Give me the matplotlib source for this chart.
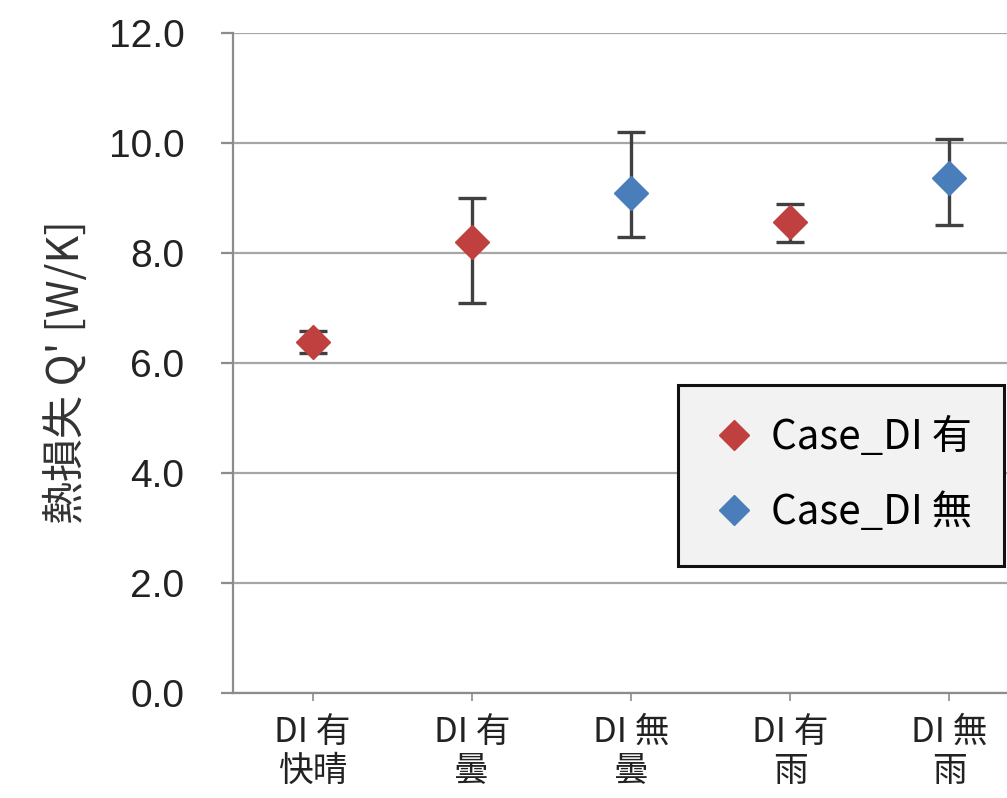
import matplotlib
matplotlib.use("Agg")
import matplotlib.pyplot as plt
import numpy as np

categories = ["DI 有\n快晴", "DI 有\n曇", "DI 無\n曇", "DI 有\n雨", "DI 無\n雨"]

# Case_DI 有 (categories 1, 2, 4)
ari_idx = [0, 1, 3]
ari_val = [6.38, 8.20, 8.56]
ari_low = [6.18, 7.09, 8.20]
ari_high = [6.58, 9.00, 8.90]

# Case_DI 無 (categories 3, 5)
nashi_idx = [2, 4]
nashi_val = [9.09, 9.36]
nashi_low = [8.29, 8.51]
nashi_high = [10.20, 10.07]

yticks = [0, 2, 4, 6, 8, 10, 12]
ylabel = "熱損失 Q' [W/K]"
legend_labels = ["Case_DI 有", "Case_DI 無"]

RED = "#C0403F"
BLUE = "#4A7EBB"
ERR = "#404040"
GRID = "#A6A6A6"

W, H = 1007, 798
fig = plt.figure(figsize=(W / 100, H / 100), dpi=100)
ax = fig.add_axes([233 / W, (H - 693) / H, 796 / W, 660 / H])

x = np.arange(1, len(categories) + 1)

def plot_series(idx, val, low, high, color, label):
    xs = x[idx]
    v = np.array(val)
    yerr = np.vstack([v - np.array(low), np.array(high) - v])
    ax.errorbar(xs, v, yerr=yerr, fmt="none", ecolor=ERR, elinewidth=2.4,
                capsize=10, capthick=2.4, zorder=3)
    ax.plot(xs, v, linestyle="none", marker="D", markersize=17,
            color=color, markeredgecolor=color, label=label, zorder=4)

plot_series(ari_idx, ari_val, ari_low, ari_high, RED, legend_labels[0])
plot_series(nashi_idx, nashi_val, nashi_low, nashi_high, BLUE, legend_labels[1])

ax.set_xlim(0.5, len(categories) + 0.5)
ax.set_ylim(0, 12)
ax.set_yticks(yticks)
ax.set_yticklabels([f"{v:.1f}" for v in yticks], fontfamily="Liberation Sans",
                   fontsize=28, color="#222222")
ax.set_xticks(x)
ax.set_xticklabels(categories, fontfamily=["Noto Sans CJK JP", "DejaVu Sans"],
                   fontsize=25, color="#222222", linespacing=1.15)

ax.yaxis.grid(True, color=GRID, linewidth=1.6)
ax.set_axisbelow(True)
for s in ["top", "right"]:
    ax.spines[s].set_visible(False)
for s in ["left", "bottom"]:
    ax.spines[s].set_color("#8C8C8C")
    ax.spines[s].set_linewidth(1.6)

ax.tick_params(axis="y", length=9, width=1.6, color="#8C8C8C", pad=26)
ax.tick_params(axis="x", length=6, width=1.2, color="#8C8C8C", pad=10)

fig.text(67 / W, 1 - 372 / H, ylabel, rotation=90, ha="center", va="center",
         fontsize=31, fontfamily=["Noto Sans CJK JP", "DejaVu Sans"], color="#333333")

leg = ax.legend(loc="upper left", bbox_to_anchor=(678 / W, 1 - 385 / H),
                bbox_transform=fig.transFigure, borderaxespad=0,
                prop={"family": ["Noto Sans CJK JP", "DejaVu Sans"], "size": 29},
                frameon=True, fancybox=False, facecolor="#F2F2F2",
                edgecolor="#111111", framealpha=1, handletextpad=0.3,
                labelspacing=0.85, borderpad=0.8, handlelength=1.2,
                markerscale=0.9)
leg.get_frame().set_linewidth(2.2)

fig.savefig("out.png", dpi=100)
